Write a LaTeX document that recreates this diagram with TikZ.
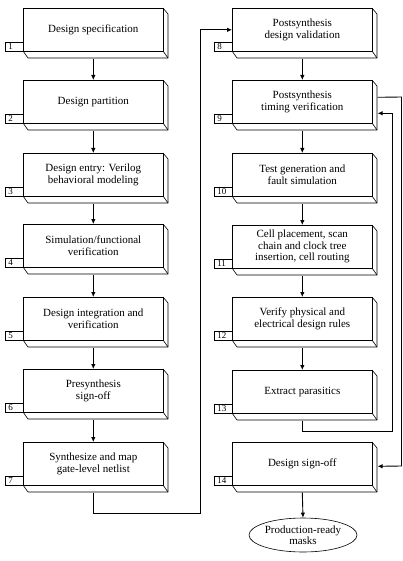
\documentclass[tikz,border=0pt]{standalone}
\usepackage{fontspec}
\setmainfont{Liberation Serif}
\usetikzlibrary{arrows.meta,shapes.geometric}
\tikzset{
 front/.style={draw, fill=white, line width=0.6pt, minimum width=140pt, minimum height=43pt, inner sep=0pt, anchor=north west, align=center, font=\fontsize{11}{11.5}\selectfont},
 slab/.style={line width=0.6pt, line join=round},
 numbox/.style={draw, fill=white, line width=0.5pt, minimum width=18pt, minimum height=9.5pt, inner sep=0pt, anchor=south east, font=\fontsize{9}{9}\selectfont},
 flow/.style={line width=0.9pt, -{Latex[length=5pt,width=4.5pt]}},
 endbox/.style={ellipse, draw, line width=0.6pt, minimum width=100pt, minimum height=34pt, inner sep=0pt, align=center, font=\fontsize{11}{11.5}\selectfont},
}
\newcommand\stagebox[5]{%
 \draw[slab] (#2+140,#3) -- (#2+145,#3+6) -- (#2+145,#3+50) -- (#2+5,#3+50) -- (#2,#3+43);
 \draw[slab] (#2+140,#3+43) -- (#2+145,#3+50);
 \node[front] (#1) at (#2,#3) {#5};
 \node[numbox] (#1n) at (#1.south west) {\makebox[16pt][l]{\hspace{2.5pt}#4}};
}
\begin{document}
\begin{tikzpicture}[x=1pt,y=-1pt]
\useasboundingbox (0,0) rectangle (403,561);
\stagebox{b1}{23}{8}{1}{Design specification}
\stagebox{b2}{23}{80}{2}{Design partition}
\stagebox{b3}{23}{153}{3}{Design entry: Verilog\\behavioral modeling}
\stagebox{b4}{23}{224}{4}{Simulation/functional\\verification}
\stagebox{b5}{23}{297}{5}{Design integration and\\verification}
\stagebox{b6}{23}{369}{6}{Presynthesis\\sign-off}
\stagebox{b7}{23}{442}{7}{Synthesize and map\\gate-level netlist}
\stagebox{b8}{232}{8}{8}{Postsynthesis\\design validation}
\stagebox{b9}{232}{80}{9}{Postsynthesis\\timing verification}
\stagebox{b10}{232}{153}{10}{Test generation and\\fault simulation}
\stagebox{b11}{232}{225}{11}{Cell placement, scan\\chain and clock tree\\insertion, cell routing}
\stagebox{b12}{232}{297}{12}{Verify physical and\\electrical design rules}
\stagebox{b13}{232}{370}{13}{Extract parasitics}
\stagebox{b14}{232}{442}{14}{Design sign-off}
\node[endbox] (masks) at (303,535) {Production-ready\\masks};
% straight flow
\foreach \a/\b in {b1/b2,b2/b3,b3/b4,b4/b5,b5/b6,b6/b7,b8/b9,b9/b10,b10/b11,b11/b12,b12/b13}
  \draw[flow] ([yshift=-7pt]\a.south) -- (\b.north);
\draw[flow] ([yshift=-7pt]b14.south) -- (masks.north);
% 7 -> 8
\coordinate (gapB) at (200,513);
\draw[flow] ([yshift=-7pt]b7.south) |- (gapB) |- (b8.west);
% 9 -> 14
\coordinate (rtop) at (401.5,97);
\coordinate (rbot) at (401.5,466);
\draw[flow] ([shift={(5pt,4.5pt)}]b9.east) -- (rtop) -- (rbot) -- ([shift={(5pt,-2.5pt)}]b14.east);
% 13 -> 9
\coordinate (r13) at (392,431);
\draw[flow] ([yshift=-7pt]b13.south) |- (r13) |- ([shift={(5pt,-11.5pt)}]b9.east);
\end{tikzpicture}
\end{document}
